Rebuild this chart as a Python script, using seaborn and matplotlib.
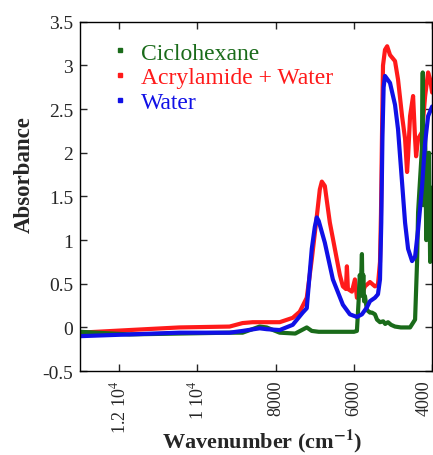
import matplotlib
matplotlib.use("Agg")
import matplotlib.pyplot as plt
from matplotlib.lines import Line2D
import seaborn as sns
import pandas as pd

# Absorption spectra (wavenumber in cm^-1, absorbance)
ciclo_wn = [13000, 11744, 10462, 9179, 8846, 8410, 8231, 7897, 7500, 7205, 7077, 6900,
            6500, 6000, 5923, 5880, 5850, 5820, 5795, 5780, 5760, 5740, 5718, 5667, 5590,
            5538, 5462, 5410, 5333, 5250, 5200, 5128, 5050, 4949, 4800, 4641, 4564, 4436,
            4385, 4359, 4308, 4256, 4240, 4230, 4179, 4150, 4128, 4103, 4080, 4051, 4030, 4000]
ciclo_abs = [-0.05, -0.08, -0.07, -0.06, -0.06, 0.01, 0.0, -0.06, -0.07, 0.0, -0.04, -0.05,
             -0.05, -0.05, -0.04, 0.3, 0.6, 0.5, 0.84, 0.36, 0.6, 0.3, 0.36, 0.2, 0.17,
             0.17, 0.15, 0.09, 0.06, 0.07, 0.04, 0.06, 0.03, 0.01, 0.0, 0.0, 0.0, 0.09,
             0.75, 1.32, 1.7, 2.08, 2.92, 1.4, 2.27, 1.0, 1.5, 1.12, 2.0, 0.75, 1.6, 1.5]

acryl_wn = [13000, 11744, 10462, 9179, 8846, 8590, 7897, 7564, 7385, 7205, 7077, 6949, 6872,
            6820, 6743, 6692, 6615, 6538, 6436, 6359, 6282, 6205, 6179, 6154, 6051, 5974,
            5923, 5795, 5718, 5590, 5462, 5385, 5333, 5308, 5282, 5256, 5205, 5150, 5077,
            4949, 4872, 4769, 4692, 4641, 4615, 4564, 4487, 4436, 4410, 4359, 4256, 4179,
            4103, 4051, 4000]
acryl_abs = [-0.06, -0.03, 0.0, 0.01, 0.05, 0.06, 0.06, 0.11, 0.18, 0.34, 0.78, 1.27, 1.58,
             1.67, 1.62, 1.45, 1.2, 1.02, 0.78, 0.6, 0.47, 0.44, 0.7, 0.44, 0.41, 0.55,
             0.34, 0.38, 0.47, 0.52, 0.47, 0.49, 0.75, 1.3, 2.2, 3.0, 3.18, 3.22, 3.12,
             3.05, 2.84, 2.42, 2.16, 1.78, 1.96, 2.42, 2.65, 2.16, 1.96, 2.16, 2.24, 2.65,
             2.92, 2.84, 2.69]

water_wn = [13000, 11744, 10462, 9179, 8846, 8410, 8231, 7897, 7564, 7308, 7205, 7077, 7000,
            6949, 6900, 6743, 6538, 6282, 6103, 5923, 5795, 5667, 5590, 5462, 5385, 5333,
            5300, 5270, 5240, 5205, 5077, 4949, 4872, 4769, 4692, 4615, 4513, 4436, 4359,
            4256, 4179, 4103, 4000]
water_abs = [-0.10, -0.08, -0.06, -0.06, -0.04, -0.01, -0.02, -0.03, 0.03, 0.17, 0.22, 0.9,
             1.15, 1.26, 1.22, 0.97, 0.55, 0.26, 0.15, 0.12, 0.15, 0.23, 0.3, 0.34, 0.38,
             0.55, 1.2, 2.2, 2.75, 2.88, 2.8, 2.55, 2.27, 1.66, 1.2, 0.9, 0.76, 0.81, 1.12,
             1.62, 2.12, 2.42, 2.53]

series_names = ["Ciclohexane", "Acrylamide + Water", "Water"]
series_colors = ["#1a6b1a", "#ff1a1a", "#1010e6"]

x_ticks = [12000, 10000, 8000, 6000, 4000]
x_ticklabels = ["1.2 10$^{4}$", "1 10$^{4}$", "8000", "6000", "4000"]
y_ticks = [-0.5, 0, 0.5, 1, 1.5, 2, 2.5, 3, 3.5]
y_ticklabels = ["-0.5", "0", "0.5", "1", "1.5", "2", "2.5", "3", "3.5"]

sns.set_style("ticks")
plt.rcParams["font.family"] = ["Liberation Serif", "DejaVu Serif"]
plt.rcParams["mathtext.fontset"] = "stix"

frames = []
for name, wn, ab in [(series_names[0], ciclo_wn, ciclo_abs),
                     (series_names[1], acryl_wn, acryl_abs),
                     (series_names[2], water_wn, water_abs)]:
    frames.append(pd.DataFrame({"wn": wn, "abs": ab, "sample": name}))
data = pd.concat(frames, ignore_index=True)

fig = plt.figure(figsize=(4.33, 4.56), dpi=100)
ax = fig.add_axes([0.185, 0.184, 0.813, 0.766])

# draw order: acrylamide, ciclohexane, water on top
for idx in [1, 0, 2]:
    sub = data[data["sample"] == series_names[idx]]
    sns.lineplot(data=sub, x="wn", y="abs", ax=ax, color=series_colors[idx],
                 linewidth=3.0, sort=False, estimator=None, legend=False)

ax.set_xlim(13000, 4000)
ax.set_ylim(-0.5, 3.5)
ax.set_xticks(x_ticks)
ax.set_xticklabels(x_ticklabels, rotation=90, fontsize=13)
ax.set_yticks(y_ticks)
ax.set_yticklabels(y_ticklabels, fontsize=14)
ax.tick_params(direction="in", length=5, width=1, top=True, right=True,
               labeltop=False, labelright=False)
ax.tick_params(axis="y", pad=5)
ax.tick_params(axis="x", pad=6)
for lbl in ax.get_xticklabels()[-1:]:
    lbl.set_horizontalalignment("right")
for sp in ax.spines.values():
    sp.set_linewidth(1.0)
    sp.set_color("black")

ax.set_xlabel("Wavenumber (cm$^{\\mathbf{-1}}$)", fontsize=16, fontweight="bold")
ax.xaxis.set_label_coords(0.517, -0.158)
ax.xaxis.label.set_verticalalignment("top")
ax.set_ylabel("Absorbance", fontsize=16.5, fontweight="bold")
ax.yaxis.set_label_coords(-0.13, 0.565)

handles = [Line2D([], [], linestyle="none", marker="s", markersize=2.2,
                  color=c, markeredgecolor=c) for c in series_colors]
leg = ax.legend(handles, series_names, loc="upper left", bbox_to_anchor=(0.08, 0.942),
                frameon=False, fontsize=17, handlelength=1.0, handletextpad=0.4,
                labelspacing=0.13, borderaxespad=0, borderpad=0)
for t, c in zip(leg.get_texts(), series_colors):
    t.set_color(c)

fig.savefig("out.png", dpi=100)
